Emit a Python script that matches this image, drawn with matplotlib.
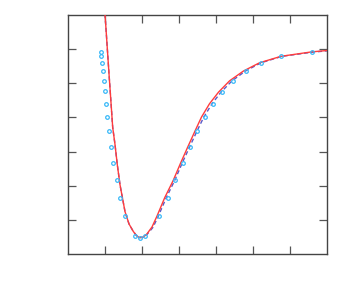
import matplotlib
matplotlib.use('Agg')
import matplotlib.pyplot as plt

# Measured points (open circles)
data_x = [0.884, 0.900, 0.919, 0.938, 0.965, 0.992, 1.027, 1.062, 1.108, 1.162,
          1.224, 1.316, 1.405, 1.541, 1.811, 1.938, 2.081, 2.459, 2.695, 2.900,
          3.108, 3.305, 3.495, 3.711, 3.927, 4.170, 4.451, 4.803, 5.208, 5.757, 6.586]
data_y = [5.92, 5.79, 5.60, 5.36, 5.07, 4.76, 4.40, 4.01, 3.59, 3.14,
          2.67, 2.17, 1.65, 1.10, 0.54, 0.48, 0.54, 1.11, 1.65, 2.16,
          2.67, 3.14, 3.59, 4.01, 4.40, 4.74, 5.07, 5.36, 5.60, 5.79, 5.92]

# Fit 1 (red solid)
fit1_x = [1.000, 1.100, 1.208, 1.270, 1.332, 1.405, 1.541, 1.649, 1.765, 1.851,
          1.927, 2.027, 2.127, 2.270, 2.405, 2.614, 2.846, 3.046, 3.235, 3.432,
          3.608, 3.824, 4.068, 4.365, 4.743, 5.176, 5.757, 6.586, 7.000]
fit1_y = [7.03, 5.41, 3.71, 3.21, 2.62, 2.03, 1.24, 0.88, 0.66, 0.54,
          0.48, 0.49, 0.58, 0.79, 1.11, 1.65, 2.16, 2.67, 3.13, 3.60,
          4.01, 4.40, 4.74, 5.07, 5.36, 5.60, 5.79, 5.92, 5.96]

# Fit 2 (blue dashed)
fit2_x = [1.000, 1.100, 1.208, 1.270, 1.332, 1.405, 1.541, 1.649, 1.765, 1.851,
          1.927, 2.027, 2.141, 2.297, 2.441, 2.657, 2.886, 3.089, 3.284, 3.486,
          3.670, 3.892, 4.135, 4.432, 4.797, 5.216, 5.784, 6.595, 7.000]
fit2_y = [7.03, 5.41, 3.71, 3.21, 2.62, 2.03, 1.24, 0.88, 0.66, 0.54,
          0.48, 0.49, 0.58, 0.78, 1.11, 1.65, 2.16, 2.67, 3.13, 3.60,
          4.01, 4.40, 4.74, 5.07, 5.36, 5.60, 5.79, 5.91, 5.95]

ticks = [1, 2, 3, 4, 5, 6]

fig = plt.figure(figsize=(3.49, 3.0), dpi=100)
ax = fig.add_axes([68 / 349, 46 / 300, 259 / 349, 239 / 300])

ax.plot(fit1_x, fit1_y, color='#ff3c3c', lw=1.0, zorder=3)
ax.plot(fit2_x, fit2_y, color='#5a5ac8', lw=1.0, ls=(0, (3, 2)), zorder=2)
ax.plot(data_x, data_y, 'o', ms=2.6, mfc='none', mec='#38b8f8', mew=0.9, zorder=4)

ax.set_xlim(0, 7)
ax.set_ylim(0, 7)
ax.set_xticks(ticks)
ax.set_yticks(ticks)
ax.set_xticklabels([])
ax.set_yticklabels([])
ax.tick_params(direction='in', length=6, width=0.9, color='#555555',
               top=True, right=True)
for side in ax.spines.values():
    side.set_color('#444444')
    side.set_linewidth(1.0)

plt.savefig('out.png', dpi=100)
